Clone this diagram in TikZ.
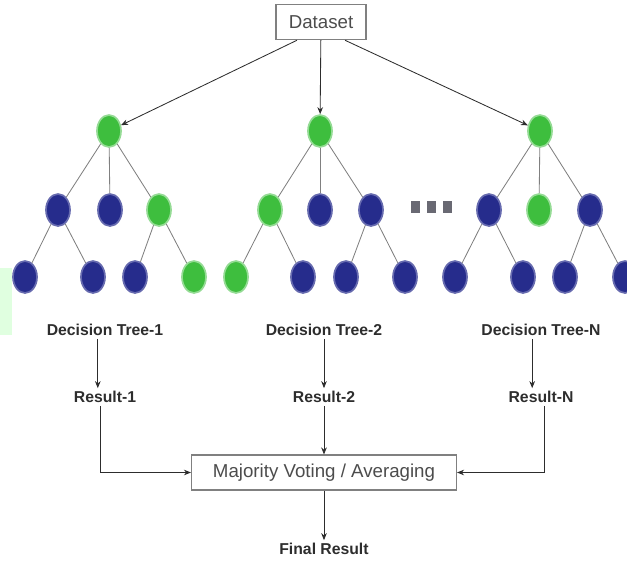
\documentclass[tikz,border=0pt]{standalone}
\usepackage{fontspec}
\setmainfont{Liberation Sans}
\usepackage{xcolor}
\usetikzlibrary{arrows.meta, shapes.geometric}

\definecolor{leafgreen}{RGB}{62,190,62}
\definecolor{leafblue}{RGB}{38,44,140}
\definecolor{edgegray}{RGB}{128,128,128}
\definecolor{inkgray}{RGB}{45,45,45}
\definecolor{dotgray}{RGB}{105,105,115}

\begin{document}
\begin{tikzpicture}[x=0.025cm, y=-0.025cm, >={Stealth[length=5pt, width=4pt]},
  gnode/.style={ellipse, fill=leafgreen, draw=leafgreen!55, line width=1.2pt,
                minimum width=0.6cm, minimum height=0.8cm, inner sep=0pt},
  bnode/.style={ellipse, fill=leafblue, draw=leafblue!70, line width=1.2pt,
                minimum width=0.6cm, minimum height=0.8cm, inner sep=0pt},
  branch/.style={draw=edgegray, line width=0.6pt},
  flow/.style={->, draw=inkgray, line width=0.6pt},
  lbl/.style={font=\bfseries\fontsize{11.2}{13}\selectfont, text=inkgray, inner sep=2pt},
  boxed/.style={draw=edgegray, line width=0.9pt, font=\fontsize{13.3}{15}\selectfont,
                text=black!70, inner sep=0pt}]
  \useasboundingbox (0,0) rectangle (627,562);
  \fill[green!12] (0,268) rectangle (12,335);

  \node[boxed, minimum width=2.25cm, minimum height=0.88cm] (ds) at (321,22) {Dataset};

  % Tree 1
  \node[gnode] (r1) at (109,131) {};
  \node[bnode] (r1a) at (58,210) {};
  \node[bnode] (r1b) at (110,210) {};
  \node[gnode] (r1c) at (159,210) {};
  \node[bnode] (r1aa) at (25,277) {};
  \node[bnode] (r1ab) at (93,277) {};
  \node[bnode] (r1ca) at (135,277) {};
  \node[gnode] (r1cb) at (194,277) {};
  % Tree 2
  \node[gnode] (r2) at (320,131) {};
  \node[gnode] (r2a) at (270,210) {};
  \node[bnode] (r2b) at (320,210) {};
  \node[bnode] (r2c) at (371,210) {};
  \node[gnode] (r2aa) at (236,277) {};
  \node[bnode] (r2ab) at (303,277) {};
  \node[bnode] (r2ca) at (346,277) {};
  \node[bnode] (r2cb) at (405,277) {};
  % Tree N
  \node[gnode] (rN) at (540,131) {};
  \node[bnode] (rNa) at (489,210) {};
  \node[gnode] (rNb) at (539,210) {};
  \node[bnode] (rNc) at (590,210) {};
  \node[bnode] (rNaa) at (455,277) {};
  \node[bnode] (rNab) at (523,277) {};
  \node[bnode] (rNca) at (565,277) {};
  \node[bnode] (rNcb) at (625,277) {};

  % dots between trees
  \foreach \dx in {415,431,447}
    \fill[dotgray] (\dx-4.5,201) rectangle (\dx+4.5,213);

  % Branches
  \foreach \p/\c in {r1/r1a, r1/r1b, r1/r1c, r1a/r1aa, r1a/r1ab, r1c/r1ca, r1c/r1cb,
                     r2/r2a, r2/r2b, r2/r2c, r2a/r2aa, r2a/r2ab, r2c/r2ca, r2c/r2cb,
                     rN/rNa, rN/rNb, rN/rNc, rNa/rNaa, rNa/rNab, rNc/rNca, rNc/rNcb}
    \draw[branch] (\p) -- (\c);

  % Dataset to roots
  \draw[flow] ([xshift=-0.6cm]ds.south) -- (r1);
  \draw[flow] (ds) -- (r2);
  \draw[flow] ([xshift=0.6cm]ds.south) -- (rN);

  % Labels and results
  \node[lbl] (dt1) at (105,330) {Decision Tree-1};
  \node[lbl] (dt2) at (324,330) {Decision Tree-2};
  \node[lbl] (dtN) at (541,330) {Decision Tree-N};
  \node[lbl] (res1) at (105,397) {Result-1};
  \node[lbl] (res2) at (324,397) {Result-2};
  \node[lbl] (resN) at (541,397) {Result-N};
  \node[boxed, minimum width=6.62cm, minimum height=0.87cm] (vote) at (324,472.5) {Majority Voting / Averaging};
  \node[lbl] (final) at (324,549) {Final Result};

  \draw[flow] ([xshift=-0.18cm]dt1.south) -- ([xshift=-0.18cm]res1.north);
  \draw[flow] (dt2) -- (res2);
  \draw[flow] ([xshift=-0.22cm]dtN.south) -- ([xshift=-0.22cm]resN.north);
  \draw[flow] ([xshift=-0.12cm]res1.south) |- (vote.west);
  \draw[flow] (res2) -- (vote);
  \draw[flow] ([xshift=0.08cm]resN.south) |- (vote.east);
  \draw[flow] (vote) -- (final);
\end{tikzpicture}
\end{document}
